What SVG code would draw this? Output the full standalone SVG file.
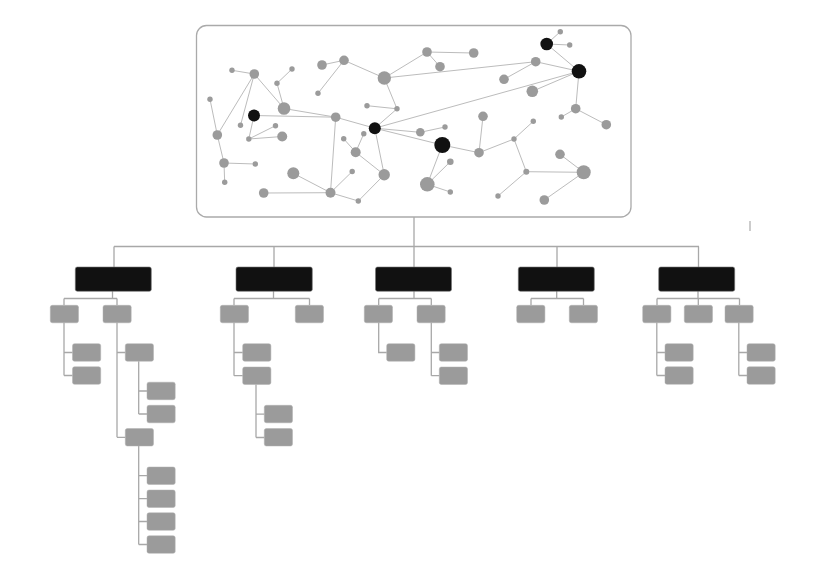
<svg xmlns="http://www.w3.org/2000/svg" width="822" height="574" viewBox="0 0 822 574">
<style>
.e{stroke:#bcbcbc;stroke-width:1;fill:none}
.c{stroke:#a8a8a8;stroke-width:1.3;fill:none}
.g{fill:#9b9b9b}
.k{fill:#111}
.hb{fill:#111;stroke:#777;stroke-width:0.6}
.gb{fill:#9b9b9b;stroke:#b0b0b0;stroke-width:0.5}
</style>
<rect width="822" height="574" fill="#fff"/>
<g id="network">
<rect x="196.5" y="25.5" width="434.5" height="191.5" rx="10" fill="#fff" stroke="#aaa" stroke-width="1.3"/>
<g id="network-edges">
<path class="e" d="M232 70.3L254.3 74M254.3 74L217.3 135M254.3 74L240.5 125.3M254.3 74L284 108.5M277 83.3L292 69M277 83.3L284 108.5M284 108.5L335.7 117.2M254 115.5L335.7 117.2M254 115.5L248.8 139M248.8 139L275.5 125.7M248.8 139L282.2 136.5M210 99.3L217.3 135M217.3 135L224 163M224 163L255.3 164M224 163L224.7 182.3M322 65L344 60.3M344 60.3L318 93.3M344 60.3L384.3 78M384.3 78L427 52M384.3 78L535.7 61.7M384.3 78L397 108.8M367 105.7L397 108.8M397 108.8L374.8 128.2M335.7 117.2L374.8 128.2M335.7 117.2L330.5 192.7M374.8 128.2L384.2 174.8M363.8 133.7L355.7 152.2M343.7 138.8L355.7 152.2M355.7 152.2L384.2 174.8M384.2 174.8L358.3 201M330.5 192.7L358.3 201M330.5 192.7L352.2 171.5M293.3 173.3L330.5 192.7M263.7 193L330.5 192.7M374.8 128.2L579 71.3M374.8 128.2L420.3 132.3M374.8 128.2L442.3 145M420.3 132.3L445 127M427 52L473.7 53M427 52L440 66.7M535.7 61.7L579 71.3M504 79.3L535.7 61.7M532.3 91.3L579 71.3M546.7 44L560.3 31.7M546.7 44L569.7 45M546.7 44L579 71.3M579 71.3L575.7 108.7M575.7 108.7L561.3 117M575.7 108.7L606.3 124.7M442.3 145L479 152.7M479 152.7L483 116.3M479 152.7L514 139M514 139L533.3 121.3M514 139L526.3 171.7M526.3 171.7L583.7 172.3M526.3 171.7L498 196M560 154.3L583.7 172.3M583.7 172.3L544.3 200M442.3 145L427.3 184.3M450.3 161.7L427.3 184.3M427.3 184.3L450.3 192"/>
</g>
<g id="network-nodes">
<circle id="n1" class="g" cx="232" cy="70.3" r="2.7"/>
<circle id="n2" class="g" cx="254.3" cy="74" r="4.8"/>
<circle id="n3" class="g" cx="292" cy="69" r="2.7"/>
<circle id="n4" class="g" cx="277" cy="83.3" r="2.7"/>
<circle id="n5" class="g" cx="284" cy="108.5" r="6.3"/>
<circle id="n6" class="g" cx="322" cy="65" r="4.8"/>
<circle id="n7" class="g" cx="344" cy="60.3" r="4.8"/>
<circle id="n8" class="g" cx="318" cy="93.3" r="2.7"/>
<circle id="n9" class="g" cx="384.3" cy="78" r="6.7"/>
<circle id="n10" class="g" cx="210" cy="99.3" r="2.7"/>
<circle id="b1" class="k" cx="254" cy="115.5" r="6"/>
<circle id="n11" class="g" cx="240.5" cy="125.3" r="2.7"/>
<circle id="n12" class="g" cx="275.5" cy="125.7" r="2.7"/>
<circle id="n13" class="g" cx="248.8" cy="139" r="2.7"/>
<circle id="n14" class="g" cx="282.2" cy="136.5" r="5"/>
<circle id="n15" class="g" cx="335.7" cy="117.2" r="4.8"/>
<circle id="n16" class="g" cx="367" cy="105.7" r="2.7"/>
<circle id="n17" class="g" cx="397" cy="108.8" r="2.7"/>
<circle id="b2" class="k" cx="374.8" cy="128.2" r="6"/>
<circle id="n18" class="g" cx="217.3" cy="135" r="4.8"/>
<circle id="n19" class="g" cx="363.8" cy="133.7" r="2.7"/>
<circle id="n20" class="g" cx="343.7" cy="138.8" r="2.7"/>
<circle id="n21" class="g" cx="355.7" cy="152.2" r="5"/>
<circle id="n22" class="g" cx="224" cy="163" r="4.8"/>
<circle id="n23" class="g" cx="255.3" cy="164" r="2.7"/>
<circle id="n24" class="g" cx="224.7" cy="182.3" r="2.7"/>
<circle id="n25" class="g" cx="293.3" cy="173.3" r="6"/>
<circle id="n26" class="g" cx="352.2" cy="171.5" r="2.7"/>
<circle id="n27" class="g" cx="384.2" cy="174.8" r="5.7"/>
<circle id="n28" class="g" cx="263.7" cy="193" r="4.8"/>
<circle id="n29" class="g" cx="330.5" cy="192.7" r="5"/>
<circle id="n30" class="g" cx="358.3" cy="201" r="2.7"/>
<circle id="b3" class="k" cx="546.7" cy="44" r="6.3"/>
<circle id="n31" class="g" cx="560.3" cy="31.7" r="2.7"/>
<circle id="n32" class="g" cx="569.7" cy="45" r="2.7"/>
<circle id="b4" class="k" cx="579" cy="71.3" r="7.3"/>
<circle id="n33" class="g" cx="535.7" cy="61.7" r="4.8"/>
<circle id="n34" class="g" cx="504" cy="79.3" r="4.8"/>
<circle id="n35" class="g" cx="532.3" cy="91.3" r="5.8"/>
<circle id="n36" class="g" cx="427" cy="52" r="4.8"/>
<circle id="n37" class="g" cx="473.7" cy="53" r="4.8"/>
<circle id="n38" class="g" cx="440" cy="66.7" r="4.8"/>
<circle id="n39" class="g" cx="575.7" cy="108.7" r="4.8"/>
<circle id="n40" class="g" cx="561.3" cy="117" r="2.7"/>
<circle id="n41" class="g" cx="606.3" cy="124.7" r="4.8"/>
<circle id="n42" class="g" cx="483" cy="116.3" r="4.8"/>
<circle id="n43" class="g" cx="533.3" cy="121.3" r="2.7"/>
<circle id="n44" class="g" cx="514" cy="139" r="2.7"/>
<circle id="n45" class="g" cx="445" cy="127" r="2.7"/>
<circle id="n46" class="g" cx="420.3" cy="132.3" r="4.3"/>
<circle id="b5" class="k" cx="442.3" cy="145" r="8"/>
<circle id="n47" class="g" cx="479" cy="152.7" r="4.8"/>
<circle id="n48" class="g" cx="450.3" cy="161.7" r="3.3"/>
<circle id="n49" class="g" cx="427.3" cy="184.3" r="7.3"/>
<circle id="n50" class="g" cx="450.3" cy="192" r="2.7"/>
<circle id="n51" class="g" cx="560" cy="154.3" r="4.8"/>
<circle id="n52" class="g" cx="526.3" cy="171.7" r="3"/>
<circle id="n53" class="g" cx="583.7" cy="172.3" r="7"/>
<circle id="n54" class="g" cx="498" cy="196" r="2.7"/>
<circle id="n55" class="g" cx="544.3" cy="200" r="4.8"/>
</g>
</g>
<g id="connectors">
<path class="c" d="M414 217V246.5M114 246.5H699M114 246.5V267M274 246.5V267M414 246.5V267M557 246.5V267M698.5 246.5V267"/>
<path class="c" d="M112.5 291V298.5M64 298.5H117M64 298.5V305M117 298.5V305"/>
<path class="c" d="M64 322.5V375.5M64 352.5H72.5M64 375.5H72.5"/>
<path class="c" d="M117 322.5V437.3M117 352.5H125.3M117 437.3H125.3"/>
<path class="c" d="M138.7 361.2V414M138.7 391H147M138.7 414H147"/>
<path class="c" d="M138.7 446V544.5M138.7 475.7H147M138.7 498.7H147M138.7 521.5H147M138.7 544.5H147"/>
<path class="c" d="M273.5 291V298.5M234 298.5H309.5M234 298.5V305M309.5 298.5V305"/>
<path class="c" d="M234 322.5V375.7M234 352.5H242.7M234 375.7H242.7"/>
<path class="c" d="M256 384.5V437.5M256 414.2H264.3M256 437.5H264.3"/>
<path class="c" d="M414 291V298.5M378.7 298.5H431.3M378.7 298.5V305M431.3 298.5V305"/>
<path class="c" d="M378.7 322.5V352.5H386.7"/>
<path class="c" d="M431.3 322.5V375.7M431.3 352.5H439.3M431.3 375.7H439.3"/>
<path class="c" d="M556.7 291V298.5M531 298.5H583.5M531 298.5V305M583.5 298.5V305"/>
<path class="c" d="M698 291V298.5M657 298.5H739.5M657 298.5V305M698.3 298.5V305M739.5 298.5V305"/>
<path class="c" d="M656.8 322.5V375.5M656.8 352.5H665M656.8 375.5H665"/>
<path class="c" d="M738.8 322.5V375.5M738.8 352.5H747M738.8 375.5H747"/>
</g>
<g id="h1"><rect class="hb" x="75.3" y="267" width="76" height="24.3" rx="2"/></g>
<g id="h2"><rect class="hb" x="236" y="267" width="76.3" height="24.3" rx="2"/></g>
<g id="h3"><rect class="hb" x="375.5" y="267" width="76" height="24.3" rx="2"/></g>
<g id="h4"><rect class="hb" x="518.3" y="267" width="76" height="24.3" rx="2"/></g>
<g id="h5"><rect class="hb" x="658.7" y="267" width="76" height="24.3" rx="2"/></g>
<g id="a"><rect class="gb" x="50.3" y="305.3" width="28.2" height="17.5" rx="2"/></g>
<g id="a1"><rect class="gb" x="72.5" y="343.7" width="28.2" height="17.5" rx="2"/></g>
<g id="a2"><rect class="gb" x="72.5" y="366.8" width="28.2" height="17.5" rx="2"/></g>
<g id="b"><rect class="gb" x="103" y="305.3" width="28.2" height="17.5" rx="2"/></g>
<g id="c"><rect class="gb" x="125.3" y="343.7" width="28.2" height="17.5" rx="2"/></g>
<g id="c1"><rect class="gb" x="147" y="382.2" width="28.2" height="17.5" rx="2"/></g>
<g id="c2"><rect class="gb" x="147" y="405.3" width="28.2" height="17.5" rx="2"/></g>
<g id="d"><rect class="gb" x="125.3" y="428.5" width="28.2" height="17.5" rx="2"/></g>
<g id="d1"><rect class="gb" x="147" y="467" width="28.2" height="17.5" rx="2"/></g>
<g id="d2"><rect class="gb" x="147" y="490" width="28.2" height="17.5" rx="2"/></g>
<g id="d3"><rect class="gb" x="147" y="512.8" width="28.2" height="17.5" rx="2"/></g>
<g id="d4"><rect class="gb" x="147" y="535.8" width="28.2" height="17.5" rx="2"/></g>
<g id="e"><rect class="gb" x="220.3" y="305.3" width="28.2" height="17.5" rx="2"/></g>
<g id="e1"><rect class="gb" x="242.7" y="343.7" width="28.2" height="17.5" rx="2"/></g>
<g id="e2"><rect class="gb" x="242.7" y="367" width="28.2" height="17.5" rx="2"/></g>
<g id="g1"><rect class="gb" x="264.3" y="405.3" width="28.2" height="17.5" rx="2"/></g>
<g id="g2"><rect class="gb" x="264.3" y="428.5" width="28.2" height="17.5" rx="2"/></g>
<g id="f"><rect class="gb" x="295.3" y="305.3" width="28.2" height="17.5" rx="2"/></g>
<g id="h"><rect class="gb" x="364.3" y="305.3" width="28.2" height="17.5" rx="2"/></g>
<g id="h1c"><rect class="gb" x="386.7" y="343.7" width="28.2" height="17.5" rx="2"/></g>
<g id="i"><rect class="gb" x="417" y="305.3" width="28.2" height="17.5" rx="2"/></g>
<g id="i1"><rect class="gb" x="439.3" y="343.7" width="28.2" height="17.5" rx="2"/></g>
<g id="i2"><rect class="gb" x="439.3" y="367" width="28.2" height="17.5" rx="2"/></g>
<g id="j"><rect class="gb" x="516.7" y="305.3" width="28.2" height="17.5" rx="2"/></g>
<g id="k"><rect class="gb" x="569.3" y="305.3" width="28.2" height="17.5" rx="2"/></g>
<g id="l"><rect class="gb" x="642.7" y="305.3" width="28.2" height="17.5" rx="2"/></g>
<g id="l1"><rect class="gb" x="665" y="343.7" width="28.2" height="17.5" rx="2"/></g>
<g id="l2"><rect class="gb" x="665" y="366.8" width="28.2" height="17.5" rx="2"/></g>
<g id="m"><rect class="gb" x="684.3" y="305.3" width="28.2" height="17.5" rx="2"/></g>
<g id="n"><rect class="gb" x="725" y="305.3" width="28.2" height="17.5" rx="2"/></g>
<g id="n1c"><rect class="gb" x="747" y="343.7" width="28.2" height="17.5" rx="2"/></g>
<g id="n2c"><rect class="gb" x="747" y="366.8" width="28.2" height="17.5" rx="2"/></g>
<line x1="750" y1="221" x2="750" y2="231" stroke="#999" stroke-width="1"/>
</svg>
